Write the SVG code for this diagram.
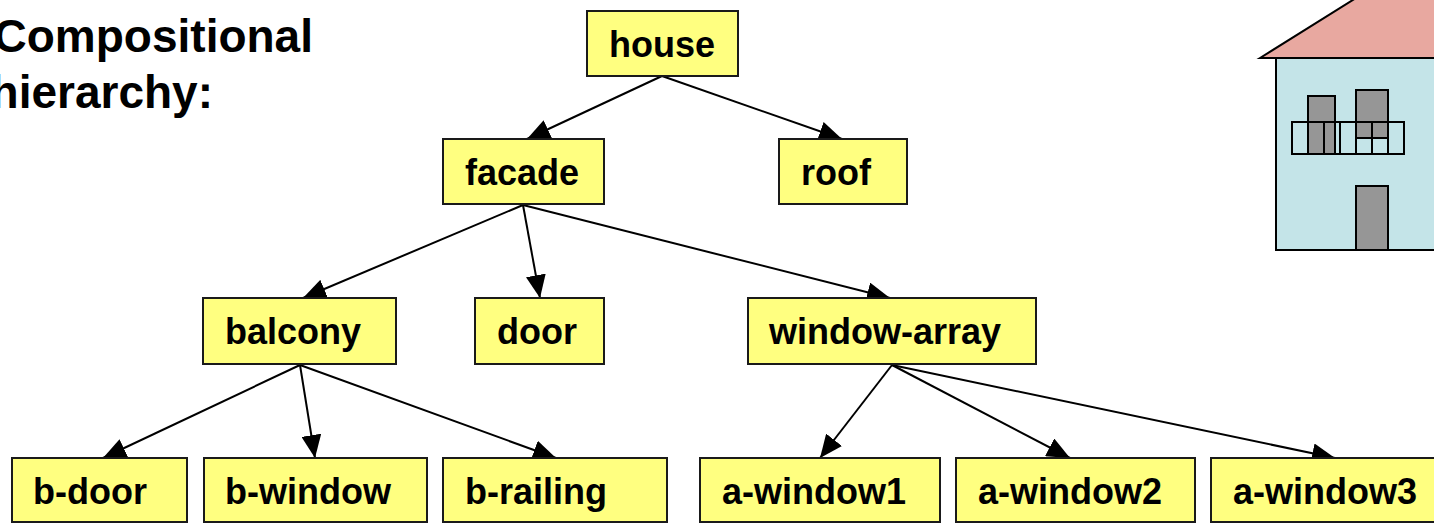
<svg xmlns="http://www.w3.org/2000/svg" width="1434" height="524" viewBox="0 0 1434 524">
  <style>
    .box { fill: #FFFF80; stroke: #1a1a1a; stroke-width: 2; }
    .lbl { font-family: "Liberation Sans", Arial, sans-serif; font-weight: bold; font-size: 36px; fill: #000; }
    .title { font-family: "Liberation Sans", Arial, sans-serif; font-weight: bold; font-size: 46px; fill: #000; }
    .edge { stroke: #000; stroke-width: 2; fill: none; marker-end: url(#head); }
    .ln { stroke: #000; stroke-width: 2; }
  </style>
  <defs>
    <marker id="head" markerUnits="userSpaceOnUse" markerWidth="24" markerHeight="20" refX="23" refY="10" orient="auto">
      <path d="M0,0 L23,10 L0,20 Z" fill="#000"/>
    </marker>
  </defs>
  <rect width="1434" height="524" fill="#fff"/>

  <!-- heading (runs off the left edge of the page) -->
  <g id="heading">
    <text class="title" x="313" y="52" text-anchor="end">Compositional</text>
    <text class="title" x="213" y="108" text-anchor="end">hierarchy:</text>
  </g>

  <!-- connectors -->
  <g id="connectors">
    <line class="edge" x1="662" y1="76" x2="527" y2="139"/>
    <line class="edge" x1="662" y1="76" x2="842" y2="139"/>
    <line class="edge" x1="523" y1="205" x2="303" y2="298"/>
    <line class="edge" x1="523" y1="205" x2="540" y2="298"/>
    <line class="edge" x1="523" y1="205" x2="890" y2="298"/>
    <line class="edge" x1="300" y1="365" x2="103" y2="458"/>
    <line class="edge" x1="300" y1="365" x2="315" y2="458"/>
    <line class="edge" x1="300" y1="365" x2="556" y2="458"/>
    <line class="edge" x1="892" y1="365" x2="820" y2="458"/>
    <line class="edge" x1="892" y1="365" x2="1070" y2="458"/>
    <line class="edge" x1="892" y1="365" x2="1335" y2="458"/>
  </g>

  <!-- nodes -->
  <g id="house"><rect class="box" x="587" y="11" width="151" height="65"/><text class="lbl" x="609" y="57">house</text></g>
  <g id="facade"><rect class="box" x="443" y="139" width="161" height="65"/><text class="lbl" x="465" y="185">facade</text></g>
  <g id="roof"><rect class="box" x="779" y="139" width="128" height="65"/><text class="lbl" x="801" y="185">roof</text></g>
  <g id="balcony"><rect class="box" x="203" y="298" width="193" height="66"/><text class="lbl" x="225" y="344">balcony</text></g>
  <g id="door"><rect class="box" x="475" y="298" width="129" height="66"/><text class="lbl" x="497" y="344">door</text></g>
  <g id="window-array"><rect class="box" x="748" y="298" width="288" height="66"/><text class="lbl" x="769" y="344">window-array</text></g>
  <g id="b-door"><rect class="box" x="12" y="458" width="175" height="64"/><text class="lbl" x="33" y="504">b-door</text></g>
  <g id="b-window"><rect class="box" x="204" y="458" width="223" height="64"/><text class="lbl" x="225" y="504">b-window</text></g>
  <g id="b-railing"><rect class="box" x="443" y="458" width="224" height="64"/><text class="lbl" x="465" y="504">b-railing</text></g>
  <g id="a-window1"><rect class="box" x="700" y="458" width="240" height="64"/><text class="lbl" x="722" y="504">a-window1</text></g>
  <g id="a-window2"><rect class="box" x="956" y="458" width="239" height="64"/><text class="lbl" x="978" y="504">a-window2</text></g>
  <g id="a-window3"><rect class="box" x="1211" y="458" width="230" height="64"/><text class="lbl" x="1233" y="504">a-window3</text></g>

  <!-- house sketch -->
  <g id="house-sketch">
    <polygon points="1260,58 1356,-2 1500,-2 1500,58" fill="#E8A8A0" stroke="#000" stroke-width="2"/>
    <rect x="1276" y="58" width="200" height="192" fill="#C4E4E8" stroke="#000" stroke-width="2"/>
    <rect x="1308" y="96" width="27" height="58" fill="#969696" stroke="#000" stroke-width="2"/>
    <rect x="1356" y="90" width="32" height="48" fill="#969696" stroke="#000" stroke-width="2"/>
    <rect x="1356" y="186" width="32" height="64" fill="#969696" stroke="#000" stroke-width="2"/>
    <rect x="1292" y="122" width="112" height="32" fill="none" stroke="#000" stroke-width="2"/>
    <line class="ln" x1="1308" y1="122" x2="1308" y2="154"/>
    <line class="ln" x1="1324" y1="122" x2="1324" y2="154"/>
    <line class="ln" x1="1340" y1="122" x2="1340" y2="154"/>
    <line class="ln" x1="1356" y1="122" x2="1356" y2="154"/>
    <line class="ln" x1="1372" y1="122" x2="1372" y2="154"/>
    <line class="ln" x1="1388" y1="122" x2="1388" y2="154"/>
  </g>
</svg>
